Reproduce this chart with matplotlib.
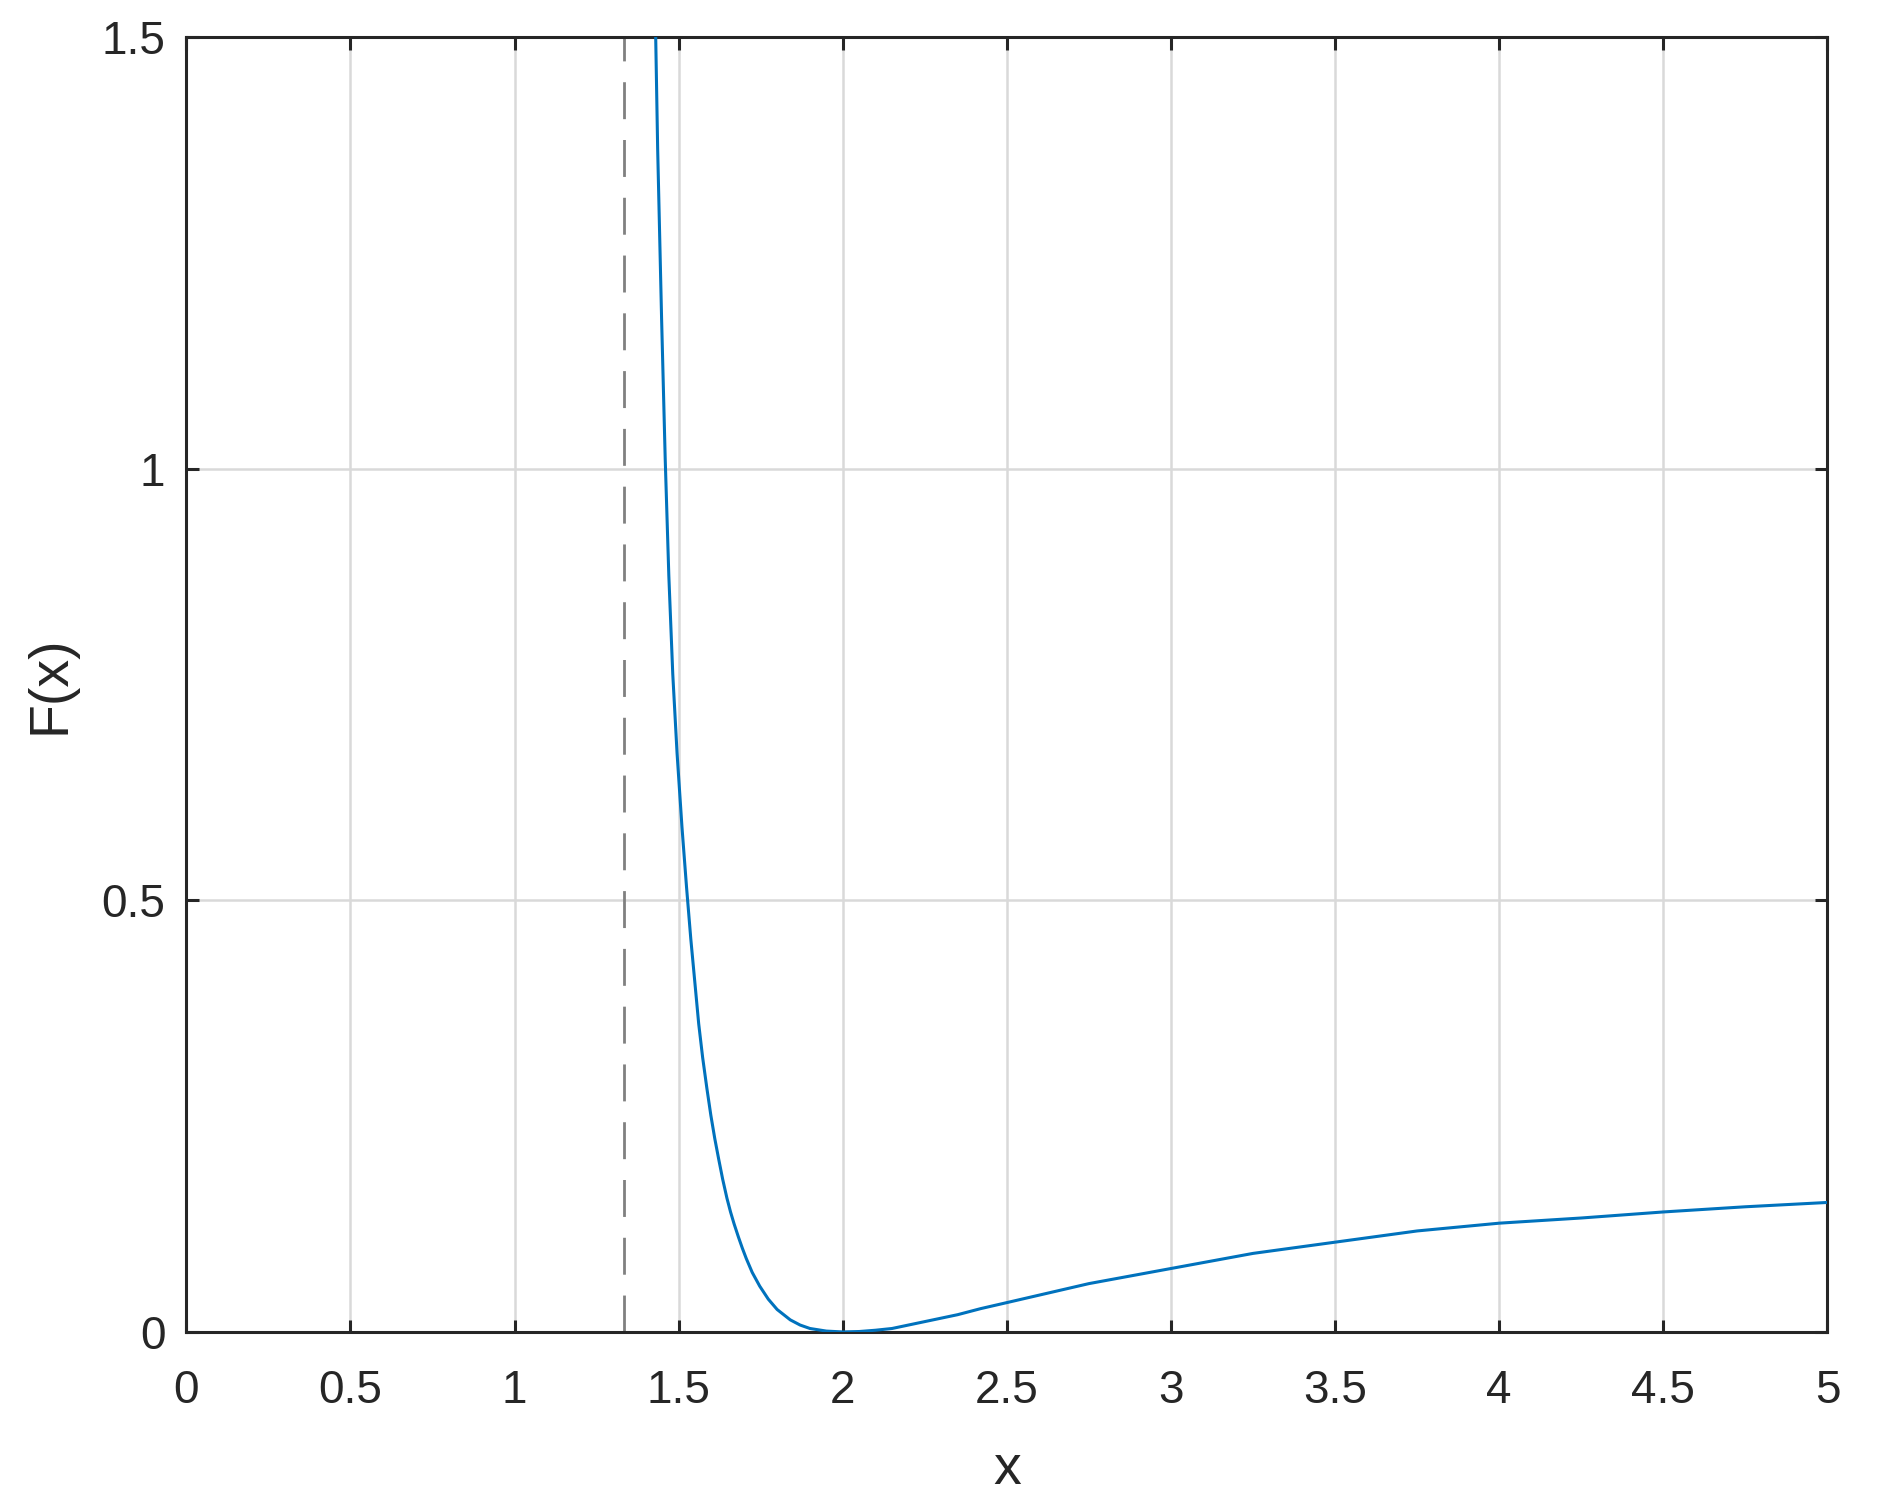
import matplotlib
matplotlib.use("Agg")
import matplotlib.pyplot as plt

# ---- data ----
x_vals = [1.425, 1.430, 1.436, 1.448, 1.459, 1.470, 1.482, 1.495, 1.510, 1.524,
          1.537, 1.550, 1.561, 1.573, 1.586, 1.598, 1.610, 1.622, 1.634, 1.647,
          1.658, 1.669, 1.682, 1.694, 1.706, 1.724, 1.747, 1.773, 1.800, 1.840,
          1.870, 1.900, 1.950, 2.000, 2.050, 2.100, 2.150, 2.200, 2.250, 2.300,
          2.350, 2.420, 2.500, 2.750, 3.000, 3.250, 3.500, 3.750, 4.000, 4.250,
          4.500, 4.750, 5.000]
F_vals = [1.56, 1.50, 1.370, 1.173, 1.011, 0.876, 0.762, 0.671, 0.585, 0.515,
          0.455, 0.402, 0.357, 0.318, 0.282, 0.251, 0.224, 0.200, 0.177, 0.155,
          0.139, 0.125, 0.110, 0.097, 0.085, 0.069, 0.053, 0.038, 0.026, 0.014,
          0.008, 0.004, 0.001, 0.0, 0.0005, 0.002, 0.004, 0.008, 0.012, 0.016,
          0.020, 0.027, 0.034, 0.056, 0.0735, 0.091, 0.104, 0.117, 0.126, 0.132,
          0.139, 0.145, 0.150]
asymptote_x = 1.333

x_ticks = [0, 0.5, 1, 1.5, 2, 2.5, 3, 3.5, 4, 4.5, 5]
x_tick_labels = ["0", "0.5", "1", "1.5", "2", "2.5", "3", "3.5", "4", "4.5", "5"]
y_ticks = [0, 0.5, 1, 1.5]
y_tick_labels = ["0", "0.5", "1", "1.5"]

plt.rcParams['font.family'] = ['Liberation Sans', 'DejaVu Sans']

fig = plt.figure(figsize=(18.84, 15.11), dpi=100)
ax = fig.add_axes([0.0989, 0.1185, 0.8711, 0.857])

ax.plot(x_vals, F_vals, color="#0072BD", lw=2.2, zorder=3)
ax.axvline(asymptote_x, color="#808080", lw=2.0, ls=(0, (13.3, 7.5)), zorder=2)

ax.set_xlim(0, 5)
ax.set_ylim(0, 1.5)
ax.set_xticks(x_ticks)
ax.set_xticklabels(x_tick_labels)
ax.set_yticks(y_ticks)
ax.set_yticklabels(y_tick_labels)

ax.grid(True, color="#d9d9d9", lw=1.8)
ax.set_axisbelow(True)

for s in ax.spines.values():
    s.set_color("#262626")
    s.set_linewidth(2.2)

ax.tick_params(axis="both", direction="in", length=9, width=2.2, color="#262626",
               labelsize=33, labelcolor="#262626", top=True, right=True)
ax.tick_params(axis="x", pad=27)
ax.tick_params(axis="y", pad=15)

ax.set_xlabel("x", fontsize=40, color="#262626", labelpad=22)
ax.set_ylabel("F(x)", fontsize=40, color="#262626", labelpad=18)

fig.savefig("out.png", dpi=100, facecolor="white")
